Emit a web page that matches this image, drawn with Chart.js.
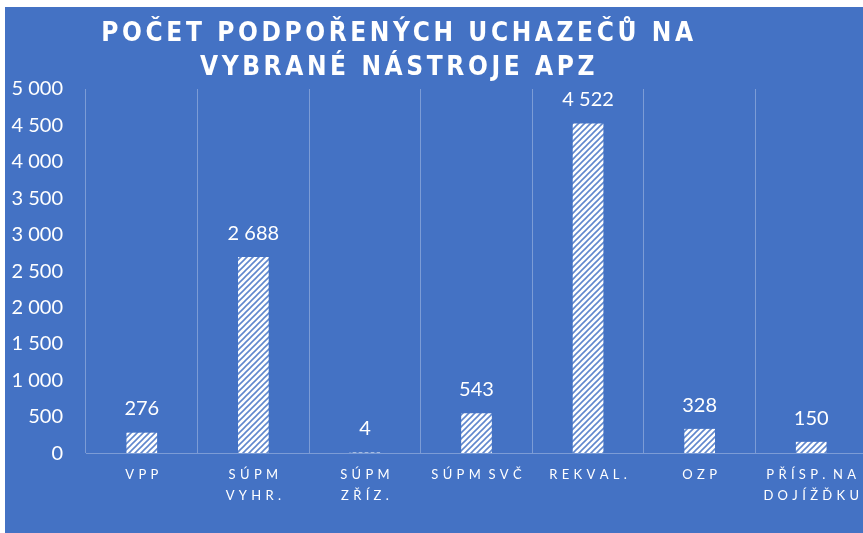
<!DOCTYPE html>
<html>
<head>
<meta charset="utf-8">
<script src="https://cdn.jsdelivr.net/npm/chart.js@4"></script>
<style>
  html, body { margin: 0; padding: 0; background: #fff; overflow: hidden; }
  #wrap { position: absolute; left: 5px; top: 7px; width: 870px; height: 526px; background: #4472c4; }
</style>
</head>
<body>
<div id="wrap"><canvas id="chart"></canvas></div>
<script>
// data
const categories = [['VPP'], ['SÚPM', 'VYHR.'], ['SÚPM', 'ZŘÍZ.'], ['SÚPM SVČ'], ['REKVAL.'], ['OZP'], ['PŘÍSP. NA', 'DOJÍŽĎKU']];
const values = [276, 2688, 4, 543, 4522, 328, 150];
const titleLines = ['POČET PODPOŘENÝCH UCHAZEČŮ NA', 'VYBRANÉ NÁSTROJE APZ'];
const yMax = 5000;
const yStep = 500;

function fmt(v) {
    return String(v).replace(/\B(?=(\d{3})+(?!\d))/g, ' ');
}

// spread letters out like the original axis labels
function spaced(s) {
    return s.split(' ').map(w => w.split('').join('\u2004')).join('\u2004 ');
}

function makeHatch() {
    const c = document.createElement('canvas');
    c.width = 6; c.height = 6;
    const g = c.getContext('2d');
    g.fillStyle = '#fff';
    g.fillRect(0, 0, 6, 6);
    g.strokeStyle = 'rgba(68,114,196,0.85)';
    g.lineWidth = 1.6;
    g.beginPath();
    g.moveTo(-1, 7); g.lineTo(7, -1);
    g.moveTo(-4, 4); g.lineTo(4, -4);
    g.moveTo(2, 10); g.lineTo(10, 2);
    g.stroke();
    return g.createPattern(c, 'repeat');
}

const titlePlugin = {
    id: 'titleText',
    afterDraw(chart) {
        const ctx = chart.ctx;
        ctx.save();
        ctx.fillStyle = '#fff';
        ctx.font = 'bold 26px "Liberation Sans Narrow", "DejaVu Sans Condensed", sans-serif';
        ctx.letterSpacing = '3.6px';
        ctx.textAlign = 'center';
        ctx.textBaseline = 'middle';
        ctx.fillText(titleLines[0], 394, 27);
        ctx.fillText(titleLines[1], 394, 61);
        ctx.restore();
    }
};

const valueLabels = {
    id: 'valueLabels',
    afterDatasetsDraw(chart) {
        const ctx = chart.ctx;
        const meta = chart.getDatasetMeta(0);
        ctx.save();
        ctx.fillStyle = '#fff';
        ctx.font = '20px Lato, "Open Sans", sans-serif';
        ctx.textAlign = 'center';
        ctx.textBaseline = 'middle';
        meta.data.forEach((bar, i) => {
            ctx.fillText(fmt(values[i]), bar.x, bar.y - 24);
        });
        ctx.restore();
    }
};

new Chart(document.getElementById('chart'), {
    type: 'bar',
    data: {
        labels: categories.map(l => l.map(spaced)),
        datasets: [{
            data: values,
            backgroundColor: makeHatch(),
            borderWidth: 0,
            barThickness: 30
        }]
    },
    options: {
        responsive: true,
        maintainAspectRatio: false,
        animation: false,
        layout: { padding: { top: 82, right: 8, left: 0, bottom: 15 } },
        plugins: {
            legend: { display: false },
            tooltip: { enabled: false }
        },
        scales: {
            x: {
                grid: {
                    offset: true,
                    color: 'rgba(255,255,255,0.3)',
                    drawTicks: false
                },
                border: { color: 'rgba(255,255,255,0.3)' },
                ticks: {
                    color: '#fff',
                    font: { size: 13, family: 'Lato, "Open Sans", sans-serif', lineHeight: 1.65 },
                    padding: 11,
                    autoSkip: false,
                    maxRotation: 0
                }
            },
            y: {
                min: 0,
                max: yMax,
                afterFit(scale) { scale.width = 81; },
                grid: { display: false, drawTicks: false },
                border: { display: false },
                ticks: {
                    stepSize: yStep,
                    color: '#fff',
                    font: { size: 20, family: 'Lato, "Open Sans", sans-serif' },
                    padding: 23,
                    callback: v => fmt(v)
                }
            }
        }
    },
    plugins: [titlePlugin, valueLabels]
});
</script>
</body>
</html>
